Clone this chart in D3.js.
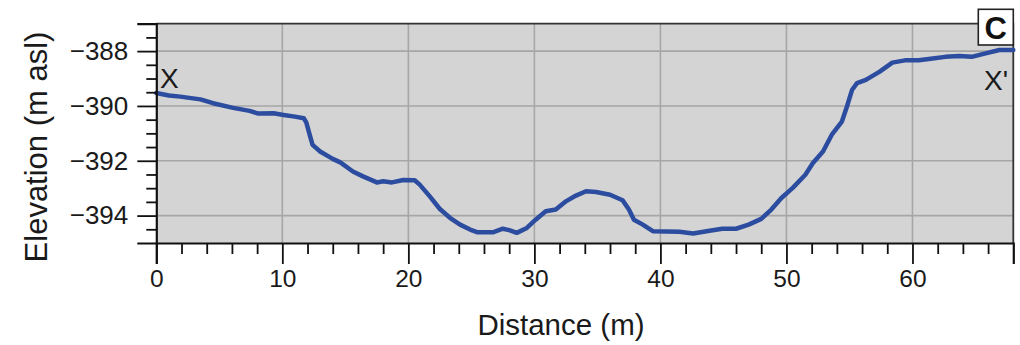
<!DOCTYPE html>
<html>
<head>
<meta charset="utf-8">
<script src="https://cdn.jsdelivr.net/npm/d3@7"></script>
<style>
  html, body { margin: 0; padding: 0; background: #fff; }
  svg { display: block; font-family: Arial, "Liberation Sans", sans-serif; }
</style>
</head>
<body>
<svg id="chart" width="1020" height="345"></svg>
<script>
// Topographic profile X–X' (distance along profile vs. elevation)
const distance = [0, 1.0, 1.9, 3.5, 4.5, 6.1, 7.4, 8.1, 9.3, 10.1, 11.0, 11.7, 11.9, 12.2, 12.4, 13.0,
  14.0, 14.6, 15.6, 16.4, 17.5, 18.0, 18.7, 19.6, 20.5, 20.9, 21.7, 22.5, 23.3, 24.1, 24.9,
  25.5, 26.7, 27.5, 28.0, 28.6, 29.4, 30.1, 30.9, 31.7, 32.5, 33.3, 34.1, 34.9, 36.0, 37.0,
  37.5, 37.9, 38.6, 39.4, 41.5, 42.6, 43.9, 44.9, 46.0, 47.0, 48.0, 48.8, 49.6, 50.5, 51.5,
  52.1, 52.9, 53.6, 54.4, 54.8, 55.2, 55.6, 56.3, 57.4, 58.4, 59.5, 60.5, 61.6, 62.6, 63.7,
  64.7, 65.8, 66.9, 68.0];
const elevation = [-389.53, -389.62, -389.66, -389.76, -389.90, -390.07, -390.18, -390.28, -390.27,
  -390.33, -390.39, -390.45, -390.60, -391.10, -391.42, -391.66, -391.93, -392.06, -392.39,
  -392.57, -392.79, -392.75, -392.79, -392.70, -392.71, -392.87, -393.30, -393.76, -394.08,
  -394.33, -394.51, -394.61, -394.61, -394.48, -394.53, -394.63, -394.45, -394.15, -393.84,
  -393.78, -393.48, -393.27, -393.11, -393.14, -393.24, -393.44, -393.78, -394.15, -394.33,
  -394.57, -394.59, -394.65, -394.55, -394.48, -394.48, -394.33, -394.12, -393.78, -393.36,
  -392.99, -392.51, -392.08, -391.66, -391.05, -390.57, -390.02, -389.42, -389.17, -389.05,
  -388.75, -388.42, -388.33, -388.33, -388.27, -388.21, -388.18, -388.21, -388.08, -387.96,
  -387.96];

const xDomain = [0, 68];
const yDomain = [-395, -387];
const xMajorTicks = [0, 10, 20, 30, 40, 50, 60];
const xMinorTicks = [2, 4, 6, 8, 12, 14, 16, 18, 22, 24, 26, 28, 32, 34, 36, 38, 42, 44, 46, 48, 52, 54, 56, 58, 62, 64, 66];
const yMajorTicks = [-388, -390, -392, -394];
const yMinorTicks = [-394.5, -393.5, -393, -392.5, -391.5, -391, -390.5, -389.5, -389, -388.5, -387.5];

const xTitle = "Distance (m)";
const yTitle = "Elevation (m asl)";
const startLabel = "X";
const endLabel = "X'";
const panelLabel = "C";

const svg = d3.select("#chart");
const plotLeft = 156.3, plotRight = 1013.3, plotTop = 23.7, plotBottom = 243;

const x = d3.scaleLinear().domain(xDomain).range([plotLeft, plotRight]);
const y = d3.scaleLinear().domain(yDomain).range([plotBottom, plotTop]);

// plot background
svg.append("rect")
  .attr("x", plotLeft).attr("y", plotTop)
  .attr("width", plotRight - plotLeft).attr("height", plotBottom - plotTop)
  .attr("fill", "#d4d4d4");

// grid
const grid = svg.append("g").attr("stroke", "#a6a6a6").attr("stroke-width", 1.6);
grid.selectAll(".vg").data(xMajorTicks.filter(d => d > 0)).join("line")
  .attr("x1", d => x(d)).attr("x2", d => x(d))
  .attr("y1", plotTop).attr("y2", plotBottom);
grid.selectAll(".hg").data(yMajorTicks).join("line")
  .attr("x1", plotLeft).attr("x2", plotRight)
  .attr("y1", d => y(d)).attr("y2", d => y(d));

// frame (top and right)
svg.append("path")
  .attr("d", `M${plotLeft},${plotTop}H${plotRight}V${plotBottom}`)
  .attr("fill", "none").attr("stroke", "#333").attr("stroke-width", 1.8);

// profile line
const line = d3.line()
  .x((d, i) => x(distance[i]))
  .y((d, i) => y(elevation[i]));
svg.append("path")
  .datum(elevation)
  .attr("d", line)
  .attr("fill", "none")
  .attr("stroke", "#2b4c9f")
  .attr("stroke-width", 4.5)
  .attr("stroke-linejoin", "round")
  .attr("stroke-linecap", "round");

// x axis
const xAxis = svg.append("g").attr("transform", `translate(0,${plotBottom})`)
  .call(d3.axisBottom(x).tickValues(xMajorTicks).tickSize(21).tickPadding(6).tickFormat(d3.format("d")));
svg.append("g").attr("transform", `translate(0,${plotBottom})`)
  .call(d3.axisBottom(x).tickValues(xMinorTicks).tickSize(11).tickFormat(""))
  .call(g => g.select(".domain").remove());

// y axis
const yAxis = svg.append("g").attr("transform", `translate(${plotLeft},0)`)
  .call(d3.axisLeft(y).tickValues(yMajorTicks).tickSize(19).tickPadding(9).tickFormat(d3.format("d")));
svg.append("g").attr("transform", `translate(${plotLeft},0)`)
  .call(d3.axisLeft(y).tickValues(yMinorTicks).tickSize(10).tickFormat(""))
  .call(g => g.select(".domain").remove());

svg.selectAll(".tick line").attr("stroke", "#111").attr("stroke-width", 1.8);
svg.selectAll(".domain").attr("stroke", "#111").attr("stroke-width", 2.2);
xAxis.selectAll("text").attr("font-size", 24.5).attr("fill", "#1a1a1a")
  .attr("font-family", "Arial, 'Liberation Sans', sans-serif");
yAxis.selectAll("text").attr("font-size", 26).attr("fill", "#1a1a1a")
  .attr("font-family", "Arial, 'Liberation Sans', sans-serif");

// axis titles
svg.append("text")
  .attr("x", 561).attr("y", 335)
  .attr("text-anchor", "middle")
  .attr("font-size", 29.5).attr("fill", "#1a1a1a")
  .text(xTitle);
svg.append("text")
  .attr("transform", "translate(47,147) rotate(-90)")
  .attr("text-anchor", "middle")
  .attr("font-size", 31).attr("fill", "#1a1a1a")
  .text(yTitle);

// profile end labels
svg.append("text")
  .attr("x", 160).attr("y", 88)
  .attr("font-size", 28).attr("fill", "#1a1a1a")
  .text(startLabel);
svg.append("text")
  .attr("x", 1008).attr("y", 90)
  .attr("text-anchor", "end")
  .attr("font-size", 28).attr("fill", "#1a1a1a")
  .text(endLabel);

// panel label
svg.append("rect")
  .attr("x", 978.3).attr("y", 9.3)
  .attr("width", 35).attr("height", 35.7)
  .attr("fill", "#fff").attr("stroke", "#222").attr("stroke-width", 1.6);
svg.append("text")
  .attr("x", 995.8).attr("y", 39)
  .attr("text-anchor", "middle")
  .attr("font-size", 31).attr("font-weight", "bold").attr("fill", "#111")
  .text(panelLabel);
</script>
</body>
</html>
